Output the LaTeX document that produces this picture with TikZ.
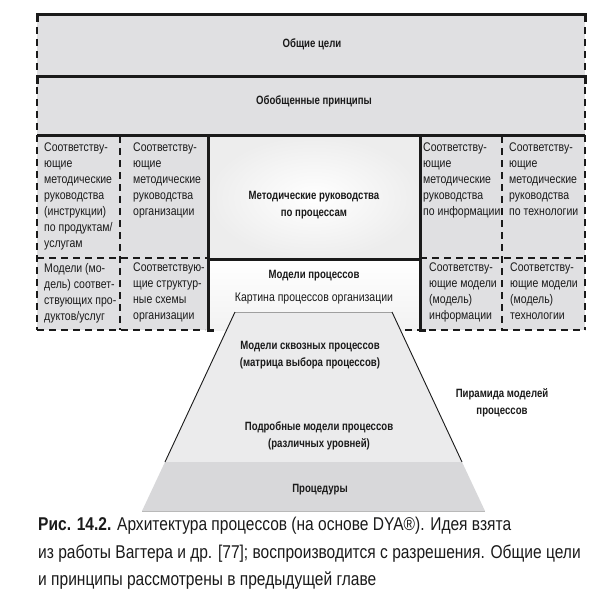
\documentclass[tikz,border=0pt]{standalone}
\usepackage{fontspec}
\setmainfont{Liberation Sans}[FakeStretch=0.84]
\newfontfamily\bcond{Liberation Sans}[FakeStretch=0.80]
\definecolor{boxgray}{HTML}{E0E0E2}
\definecolor{pyrlight}{HTML}{EBEBEC}
\definecolor{pyrdark}{HTML}{D8D8DA}
\definecolor{inkc}{HTML}{1A1A1A}
\begin{document}
\begin{tikzpicture}[x=1pt,y=-1pt,
  solidln/.style={line width=3pt, draw=inkc},
  dashln/.style={line width=2pt, draw=inkc, dash pattern=on 7pt off 5pt},
  celltxt/.style={anchor=north west, inner sep=0pt, align=left, text=inkc,
    font=\fontsize{12.5}{16}\selectfont},
  boldlbl/.style={inner sep=0pt, align=center, text=inkc,
    font=\bcond\bfseries\fontsize{12}{17}\selectfont},
  plainlbl/.style={inner sep=0pt, align=center, text=inkc,
    font=\fontsize{12.5}{16}\selectfont},
  captxt/.style={anchor=base west, inner sep=0pt, text=inkc,
    font=\fontsize{18.5}{27}\selectfont}]
\useasboundingbox (0,0) rectangle (610,599);
\fill[white] (0,0) rectangle (610,599);
% gray areas
\fill[boxgray] (37,15) rectangle (585,136);
\fill[boxgray] (37,136) rectangle (208,330);
\fill[boxgray] (420,136) rectangle (585,330);
\shade[inner color=white, outer color=gray!14] (208,136) rectangle (420,259);
\shade[top color=white, bottom color=gray!10] (208,259) rectangle (420,330);
% pyramid
\fill[pyrlight] (235,312) -- (392,312) -- (462,462) -- (165,462) -- cycle;
\fill[pyrdark] (165,462) -- (462,462) -- (485,511) -- (142,511) -- cycle;
\draw[gray!75, line width=0.8pt] (235,312) -- (392,312);
\draw[inkc, line width=0.9pt] (235,312) -- (165,462);
\draw[inkc, line width=0.9pt] (392,312) -- (462,462);
\draw[gray!55, line width=0.8pt] (142,511) -- (485,511);
% dashed lines
\draw[dashln] (37,15) -- (37,330);
\draw[dashln] (585,15) -- (585,330);
\draw[dashln] (120,136) -- (120,330);
\draw[dashln] (502,136) -- (502,330);
\draw[dashln] (37,258) -- (208,258);
\draw[dashln] (420,258) -- (585,258);
\draw[dashln] (37,330) -- (205,330);
\draw[dashln] (405,330) -- (585,330);
% solid lines
\draw[solidln] (37,22) -- (37,15) -- (585,15) -- (585,22);
\draw[solidln] (37,84) -- (37,77) -- (585,77) -- (585,84);
\draw[solidln] (37,136) -- (585,136);
\draw[solidln] (208,136) -- (208,330) -- (214,330);
\draw[solidln] (420,136) -- (420,330) -- (426,330);
\draw[solidln] (208,259) -- (420,259);
% labels
\node[boldlbl] (goals) at (312,44) {Общие цели};
\node[boldlbl] (princ) at (314,101) {Обобщенные принципы};
\node[celltxt] (c1t) at (44,143) {Соответству-\\ющие\\методические\\руководства\\(инструкции)\\по продуктам/\\услугам};
\node[celltxt] (c2t) at (133,143) {Соответству-\\ющие\\методические\\руководства\\организации};
\node[celltxt] (c4t) at (423,143) {Соответству-\\ющие\\методические\\руководства\\по информации};
\node[celltxt] (c5t) at (509,143) {Соответству-\\ющие\\методические\\руководства\\по технологии};
\node[celltxt] (c1b) at (44,263) {Модели (мо-\\дель) соответ-\\ствующих про-\\дуктов/услуг};
\node[celltxt] (c2b) at (133,263) {Соответствую-\\щие структур-\\ные схемы\\организации};
\node[celltxt] (c4b) at (429,263) {Соответству-\\ющие модели\\(модель)\\информации};
\node[celltxt] (c5b) at (510,263) {Соответству-\\ющие модели\\(модель)\\технологии};
\node[boldlbl] (metod) at (314,205) {Методические руководства\\по процессам};
\node[boldlbl] (models) at (314,276) {Модели процессов};
\node[plainlbl] (kart) at (314,298) {Картина процессов организации};
\node[boldlbl] (skv) at (310,355) {Модели сквозных процессов\\(матрица выбора процессов)};
\node[boldlbl] (podr) at (319,435.5) {Подробные модели процессов\\(различных уровней)};
\node[boldlbl] (proc) at (320,490) {Процедуры};
\node[boldlbl] (pyr) at (502,402.5) {Пирамида моделей\\процессов};
\node[captxt] (cap1) at (38,530) {\textbf{Рис. 14.2.} Архитектура процессов (на основе DYA®). Идея взята};
\node[captxt] (cap2) at (38,558) {из работы Вагтера и др. [77]; воспроизводится с разрешения. Общие цели};
\node[captxt] (cap3) at (38,585) {и принципы рассмотрены в предыдущей главе};
\end{tikzpicture}
\end{document}
